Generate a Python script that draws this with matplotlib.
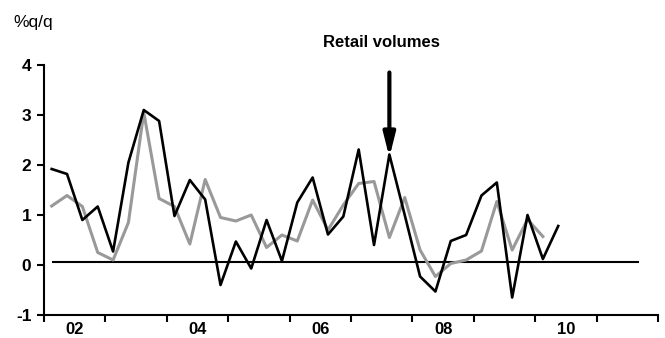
import numpy as np
import matplotlib
matplotlib.use('Agg')
import matplotlib.pyplot as plt

plt.rcParams['font.family'] = ['Liberation Sans', 'DejaVu Sans']

# quarterly % changes, 2002 Q1 onwards
black_vals = [1.92, 1.82, 0.90, 1.17, 0.27, 2.05, 3.10, 2.88,
              0.98, 1.70, 1.31, -0.40, 0.47, -0.07, 0.90, 0.08,
              1.25, 1.75, 0.61, 0.97, 2.31, 0.40, 2.21, 1.00,
              -0.23, -0.53, 0.48, 0.60, 1.39, 1.65, -0.65, 1.00,
              0.12, 0.78]
grey_vals = [1.18, 1.39, 1.17, 0.25, 0.10, 0.85, 3.05, 1.33,
             1.17, 0.42, 1.71, 0.95, 0.88, 1.00, 0.35, 0.60,
             0.48, 1.30, 0.70, 1.20, 1.63, 1.67, 0.55, 1.35,
             0.30, -0.23, 0.03, 0.10, 0.28, 1.27, 0.30, 0.91,
             0.57]
year_ticks = list(range(2002, 2013))
label_years = [2002, 2004, 2006, 2008, 2010]
y_ticks = [-1, 0, 1, 2, 3, 4]

t_black = 2002 + (np.arange(len(black_vals)) + 0.5) / 4
t_grey = 2002 + (np.arange(len(grey_vals)) + 0.5) / 4

fig = plt.figure(figsize=(6.65, 3.38), dpi=100)
ax = fig.add_axes([44/665, 23/338, 614/665, 250/338])

ax.hlines(0.07, t_black[0], 2011.69, color='black', lw=1.5)
ax.plot(t_grey, grey_vals, color='#999999', lw=2.2)
ax.plot(t_black, black_vals, color='black', lw=1.9)

# arrow pointing at 2007 Q3
ax.annotate('', xy=(t_black[22], 2.15), xytext=(t_black[22], 3.85),
            arrowprops=dict(arrowstyle='-|>,head_length=1.4,head_width=0.35',
                            color='black', lw=3.0, shrinkA=0, shrinkB=0))
ax.text(2007.5, 4.45, 'Retail volumes', ha='center', va='center',
        fontsize=12, fontweight='bold')
fig.text(13/665, 1 - 22/338, '%q/q', ha='left', va='center', fontsize=12.5)

ax.set_xlim(2002, 2012)
ax.set_ylim(-1, 4)
ax.set_yticks(y_ticks)
ax.set_yticklabels([str(v) for v in y_ticks], fontsize=12.5, fontweight='bold')
ax.set_xticks(year_ticks)
ax.set_xticklabels([])
ax.set_xticks([y + 0.5 for y in label_years], minor=True)
ax.set_xticklabels(['%02d' % (y % 100) for y in label_years], minor=True,
                   fontsize=12, fontweight='bold')
ax.tick_params(axis='x', which='major', direction='out', length=5, width=1.5)
ax.tick_params(axis='x', which='minor', length=0, pad=5)
ax.tick_params(axis='y', direction='out', length=5, width=1.5, pad=4)
for s in ['top', 'right']:
    ax.spines[s].set_visible(False)
for s in ['left', 'bottom']:
    ax.spines[s].set_linewidth(1.5)

fig.savefig('out.png', dpi=100)
